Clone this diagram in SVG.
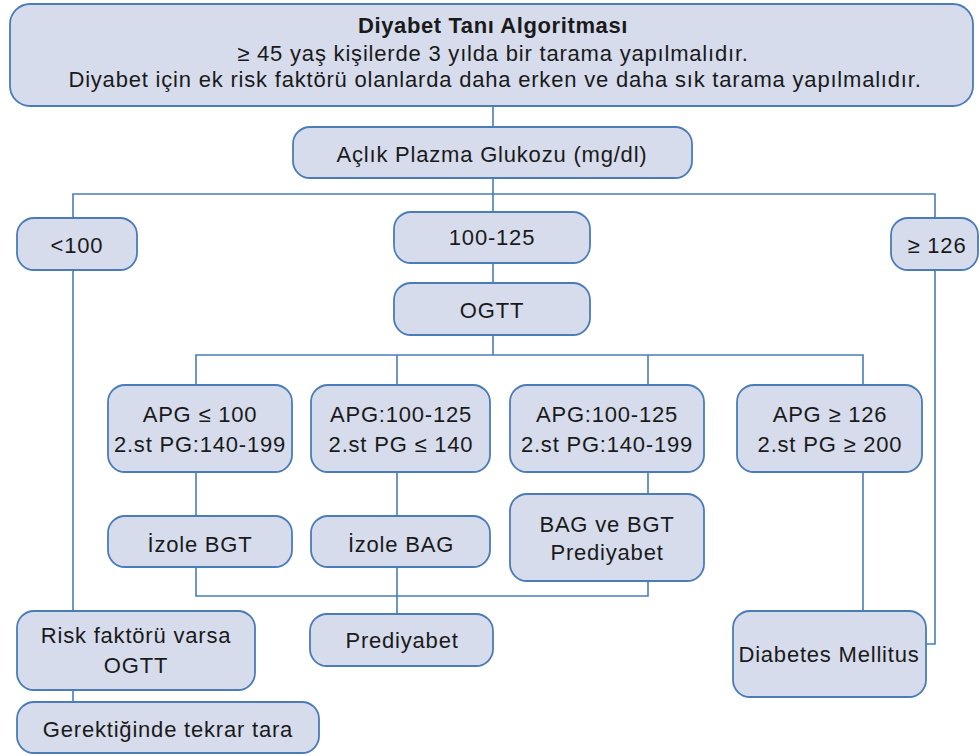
<svg xmlns="http://www.w3.org/2000/svg" width="980" height="756" viewBox="0 0 980 756">
<style>
.box{fill:#d6dcec;stroke:#4a7cb8;stroke-width:1.8}
.ln{fill:none;stroke:#4a7cb8;stroke-width:1.6}
text{font-family:"Liberation Sans",Arial,sans-serif;font-size:22px;letter-spacing:0.8px;fill:#1a1a1a;text-anchor:middle}
.b{font-weight:bold;letter-spacing:0.6px}
</style>
<rect width="980" height="756" fill="#ffffff"/>
<g id="connectors">
<path class="ln" d="M493,106V127M493,178V212M73,218V194H935V218M493,263V283M493,335V355M196,385V355H863V385M397,355V385M648,355V385M73,270V611M73,690V702M935,270V644H926M196,472V516M397,472V516M648,472V494M196,567V596H648V581M397,567V614M863,472V611"/>
</g>
<g id="title">
<rect class="box" x="10" y="4" width="963" height="102" rx="20"/>
<text class="b" x="493" y="33">Diyabet Tanı Algoritması</text>
<text x="493" y="61">≥ 45 yaş kişilerde 3 yılda bir tarama yapılmalıdır.</text>
<text x="495" y="87">Diyabet için ek risk faktörü olanlarda daha erken ve daha sık tarama yapılmalıdır.</text>
</g>
<g id="apg">
<rect class="box" x="293" y="127" width="399" height="51" rx="17"/>
<text x="492" y="162">Açlık Plazma Glukozu (mg/dl)</text>
</g>
<g id="lt100">
<rect class="box" x="17" y="218" width="120" height="52" rx="17"/>
<text x="77" y="253">&lt;100</text>
</g>
<g id="r100125">
<rect class="box" x="394" y="212" width="196" height="51" rx="17"/>
<text x="492" y="245">100-125</text>
</g>
<g id="ge126">
<rect class="box" x="891" y="218" width="87" height="52" rx="17"/>
<text x="937" y="253">≥ 126</text>
</g>
<g id="ogtt">
<rect class="box" x="394" y="283" width="196" height="52" rx="17"/>
<text x="492" y="318">OGTT</text>
</g>
<g id="apg1">
<rect class="box" x="108" y="385" width="184" height="87" rx="17"/>
<text x="200" y="422">APG ≤ 100</text>
<text x="200" y="452">2.st PG:140-199</text>
</g>
<g id="apg2">
<rect class="box" x="311" y="385" width="179" height="87" rx="17"/>
<text x="401" y="422">APG:100-125</text>
<text x="401" y="452">2.st PG ≤ 140</text>
</g>
<g id="apg3">
<rect class="box" x="510" y="385" width="194" height="87" rx="17"/>
<text x="607" y="422">APG:100-125</text>
<text x="607" y="452">2.st PG:140-199</text>
</g>
<g id="apg4">
<rect class="box" x="737" y="385" width="185" height="87" rx="17"/>
<text x="830" y="422">APG ≥ 126</text>
<text x="830" y="452">2.st PG ≥ 200</text>
</g>
<g id="izolebgt">
<rect class="box" x="108" y="516" width="184" height="51" rx="17"/>
<text x="200" y="552">İzole BGT</text>
</g>
<g id="izolebag">
<rect class="box" x="311" y="516" width="179" height="51" rx="17"/>
<text x="401" y="552">İzole BAG</text>
</g>
<g id="bagbgt">
<rect class="box" x="510" y="494" width="194" height="87" rx="17"/>
<text x="607" y="532">BAG ve BGT</text>
<text x="607" y="560">Prediyabet</text>
</g>
<g id="prediyabet">
<rect class="box" x="310" y="614" width="183" height="52" rx="17"/>
<text x="402" y="648">Prediyabet</text>
</g>
<g id="risk">
<rect class="box" x="17" y="611" width="238" height="79" rx="17"/>
<text x="136" y="643">Risk faktörü varsa</text>
<text x="136" y="673">OGTT</text>
</g>
<g id="gerek">
<rect class="box" x="17" y="702" width="302" height="51" rx="17"/>
<text x="168" y="737">Gerektiğinde tekrar tara</text>
</g>
<g id="dm">
<rect class="box" x="733" y="611" width="193" height="86" rx="17"/>
<text x="829" y="662">Diabetes Mellitus</text>
</g>
</svg>
